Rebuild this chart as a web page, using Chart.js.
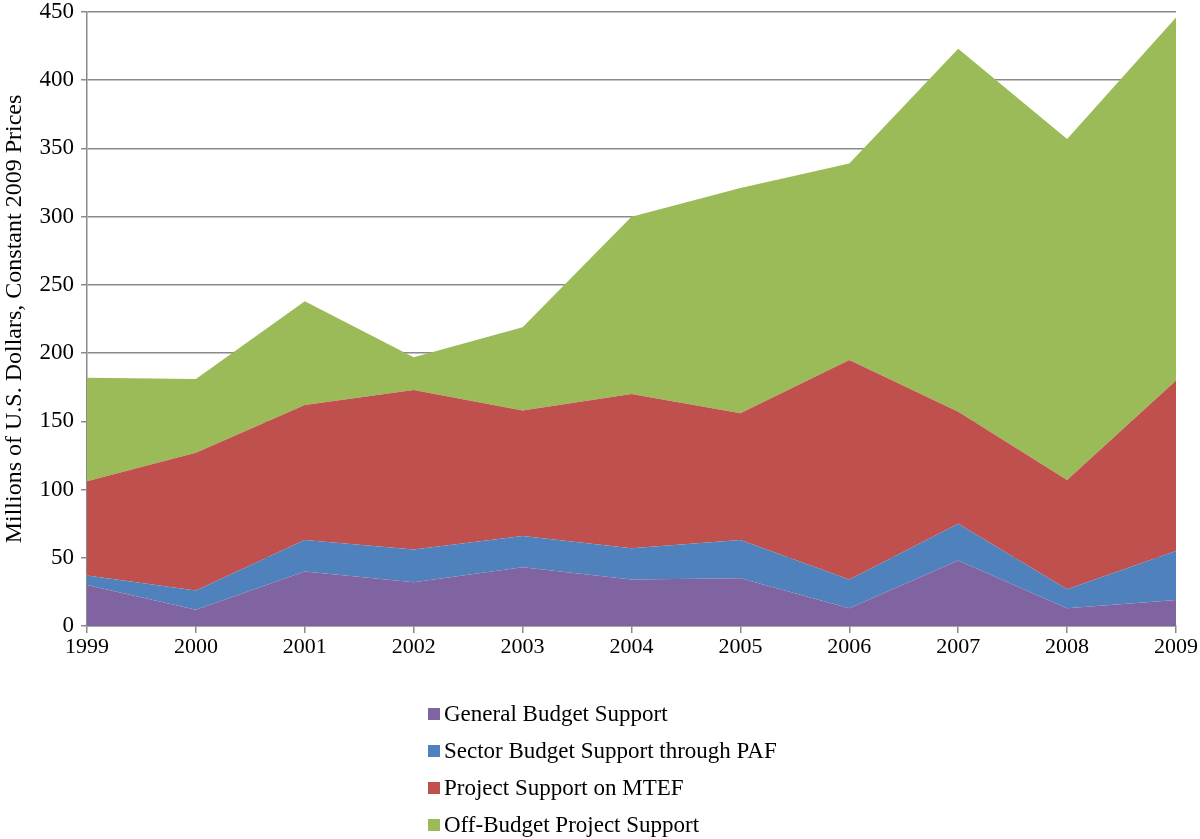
<!DOCTYPE html>
<html>
<head>
<meta charset="utf-8">
<script src="https://cdn.jsdelivr.net/npm/chart.js@4/dist/chart.umd.min.js"></script>
<style>
  html, body { margin: 0; padding: 0; background: #fff; }
  #chart { display: block; }
</style>
</head>
<body>
<canvas id="chart" width="1200" height="839"></canvas>
<script>
// values (millions of USD, constant 2009 prices)
const years = ['1999', '2000', '2001', '2002', '2003', '2004', '2005', '2006', '2007', '2008', '2009'];
const generalBudget = [30, 12, 40, 32, 43, 34, 35, 13, 48, 13, 19];
const sectorBudget  = [7, 14, 23, 24, 23, 23, 28, 21, 27, 14, 36];
const projectMTEF   = [69, 101, 99, 117, 92, 113, 93, 161, 82, 80, 125];
const offBudget     = [76, 54, 76, 24, 61, 130, 165, 144, 266, 250, 266];
const seriesNames = ['General Budget Support', 'Sector Budget Support through PAF', 'Project Support on MTEF', 'Off-Budget Project Support'];
const seriesColors = ['#8064A2', '#4F81BD', '#C0504D', '#9BBB59'];
const yMax = 450;
const yStep = 50;

const serif = "'Liberation Serif', 'Times New Roman', serif";
const gridGray = '#8a8a8a';

function area(i, data) {
  return {
    label: seriesNames[i],
    data: data,
    backgroundColor: seriesColors[i],
    borderColor: seriesColors[i],
    borderWidth: 0,
    pointRadius: 0,
    tension: 0,
    fill: i === 0 ? 'origin' : '-1'
  };
}

// vertical legend under the plot, one item per row
const stackLegend = {
  id: 'stackLegend',
  afterDraw(chart) {
    const ctx = chart.ctx;
    ctx.save();
    ctx.font = '23px ' + serif;
    ctx.textBaseline = 'middle';
    chart.data.datasets.forEach((ds, i) => {
      const y = 714 + i * 37;
      ctx.fillStyle = ds.backgroundColor;
      ctx.fillRect(428, y - 6, 12, 12);
      ctx.fillStyle = '#000';
      ctx.fillText(ds.label, 444, y + 1);
    });
    ctx.restore();
  }
};

new Chart(document.getElementById('chart').getContext('2d'), {
  type: 'line',
  data: {
    labels: years,
    datasets: [
      area(0, generalBudget),
      area(1, sectorBudget),
      area(2, projectMTEF),
      area(3, offBudget)
    ]
  },
  options: {
    responsive: false,
    animation: false,
    layout: { padding: { left: 0, top: 0, right: 24, bottom: 173 } },
    plugins: {
      legend: { display: false },
      tooltip: { enabled: false }
    },
    scales: {
      x: {
        offset: false,
        grid: {
          display: true,
          drawOnChartArea: false,
          drawTicks: true,
          tickLength: 7,
          color: gridGray,
          lineWidth: 1.5
        },
        border: { display: true, color: gridGray, width: 1.5 },
        ticks: {
          color: '#000',
          font: { family: serif, size: 22 },
          padding: 1,
          maxRotation: 0,
          autoSkip: false
        },
        afterFit(scale) { scale.height = 40; }
      },
      y: {
        stacked: true,
        min: 0,
        max: yMax,
        grid: {
          color: gridGray,
          lineWidth: 1.5,
          tickLength: 6
        },
        border: { display: true, color: gridGray, width: 1.5 },
        ticks: {
          stepSize: yStep,
          color: '#000',
          font: { family: serif, size: 23 },
          padding: 7
        },
        title: {
          display: true,
          text: 'Millions of U.S. Dollars, Constant 2009 Prices',
          color: '#000',
          font: { family: serif, size: 24 },
          padding: { top: 0, bottom: 0 }
        },
        afterFit(scale) {
          scale.width = 87;
          scale.paddingTop = 12;
        }
      }
    }
  },
  plugins: [stackLegend]
});
</script>
</body>
</html>
